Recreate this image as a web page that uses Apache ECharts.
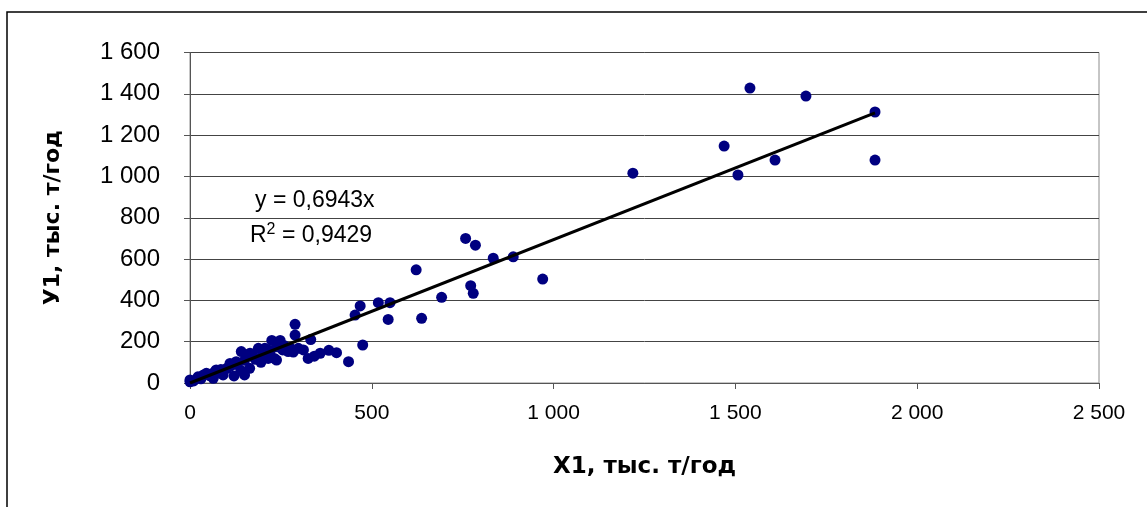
<!DOCTYPE html>
<html>
<head>
<meta charset="utf-8">
<script src="https://cdn.jsdelivr.net/npm/echarts@6/dist/echarts.min.js"></script>
<style>
  html, body { margin: 0; padding: 0; background: #fff; }
  #chart { width: 1147px; height: 507px; }
</style>
</head>
<body>
<div id="chart"></div>
<script>
// X1 / У1 pairs, thousand t per year
const xValues = [1884, 1884, 1540, 1694, 1469, 1609, 1507, 1218,
  889, 834, 758, 785, 970, 772, 779, 692, 622, 637, 550, 518, 545,
  468, 454, 475, 436, 403, 382, 358, 342, 325, 332, 312, 289, 289, 298, 284, 270, 248, 225, 238, 232, 215, 206, 188, 165, 160, 164, 150, 141, 127, 121, 109, 110, 91, 72, 69, 64, 45, 37, 22, 0, 0,
  10, 30, 55, 80, 100, 130, 150, 175, 200, 215, 260, 255, 275, 195, 220, 240, 180, 140, 120, 85, 60]
const yValues = [1312, 1079, 1428, 1389, 1147, 1079, 1007, 1016,
  611, 604, 700, 667, 503, 471, 434, 415, 548, 313, 389, 389, 308,
  373, 329, 184, 103, 147, 158, 144, 130, 119, 210, 160, 284, 232, 168, 150, 152, 206, 206, 111, 119, 119, 168, 168, 144, 136, 71, 39, 152, 103, 34, 79, 95, 39, 63, 55, 23, 47, 39, 30, 15, 6,
  10, 20, 35, 50, 70, 90, 110, 125, 140, 160, 180, 160, 170, 100, 150, 175, 115, 60, 90, 65, 45]
const xTicks = [0, 500, 1000, 1500, 2000, 2500]
const yTicks = [0, 200, 400, 600, 800, 1000, 1200, 1400, 1600]
// linear trend through the origin, as printed on the chart
const slope = 0.6943
const rSquared = 0.9429
const trendX = [0, 1884]

const points = xValues.map((x, i) => [x, yValues[i]])
const trend = trendX.map(x => [x, slope * x])

function spaced(v) {
  return String(v).replace(/\B(?=(\d{3})+(?!\d))/g, ' ')
}
function comma(v) {
  return String(v).replace('.', ',')
}

const chart = echarts.init(document.getElementById('chart'))
const option = {
  animation: false,
  backgroundColor: '#fff',
  grid: {
    left: 190,
    right: 48,
    top: 52.5,
    bottom: 124,
    show: true,
    borderColor: '#8c8c8c',
    borderWidth: 1
  },
  xAxis: {
    type: 'value',
    min: xTicks[0],
    max: xTicks[xTicks.length - 1],
    interval: 500,
    name: 'X1, тыс. т/год',
    nameLocation: 'middle',
    nameGap: 73,
    nameTextStyle: {
      fontFamily: 'DejaVu Sans',
      fontWeight: 'bold',
      fontSize: 23,
      color: '#000'
    },
    axisLine: { show: true, onZero: false, lineStyle: { color: '#555', width: 1 } },
    axisTick: { show: true, inside: false, length: 6, lineStyle: { color: '#555' } },
    axisLabel: {
      margin: 20,
      fontFamily: 'Liberation Sans',
      fontSize: 21,
      color: '#000',
      formatter: spaced
    },
    splitLine: { show: false }
  },
  yAxis: {
    type: 'value',
    min: yTicks[0],
    max: yTicks[yTicks.length - 1],
    interval: 200,
    name: 'У1, тыс. т/год',
    nameLocation: 'middle',
    nameGap: 126,
    nameTextStyle: {
      fontFamily: 'DejaVu Sans',
      fontWeight: 'bold',
      fontSize: 22,
      color: '#000'
    },
    axisLine: { show: true, onZero: false, lineStyle: { color: '#555', width: 1 } },
    axisTick: { show: true, inside: false, length: 6, lineStyle: { color: '#555' } },
    axisLabel: {
      margin: 30,
      fontFamily: 'Liberation Sans',
      fontSize: 24,
      color: '#000',
      formatter: spaced
    },
    splitLine: { show: true, lineStyle: { color: '#444', width: 1 } }
  },
  graphic: [
    {
      type: 'rect',
      shape: { x: 7, y: 12, width: 1300, height: 600 },
      style: { fill: 'none', stroke: '#000', lineWidth: 1.5 },
      silent: true
    },
    {
      type: 'text',
      left: 255,
      top: 189,
      style: {
        text: 'y = ' + comma(slope) + 'x',
        font: '23px "Liberation Sans"',
        fill: '#000'
      }
    },
    {
      type: 'text',
      left: 250,
      top: 222,
      style: {
        text: 'R{sup|2} = ' + comma(rSquared),
        font: '23px "Liberation Sans"',
        fill: '#000',
        rich: {
          sup: { fontSize: 16, fontFamily: 'Liberation Sans', verticalAlign: 'top', padding: [0, 0, 12, 0] }
        }
      }
    }
  ],
  series: [
    {
      type: 'scatter',
      data: points,
      symbol: 'circle',
      symbolSize: 11,
      itemStyle: { color: '#000080', opacity: 1 },
      z: 2
    },
    {
      type: 'line',
      data: trend,
      symbol: 'none',
      lineStyle: { color: '#000', width: 3 },
      z: 3
    }
  ]
}
option && chart.setOption(option)
</script>
</body>
</html>
